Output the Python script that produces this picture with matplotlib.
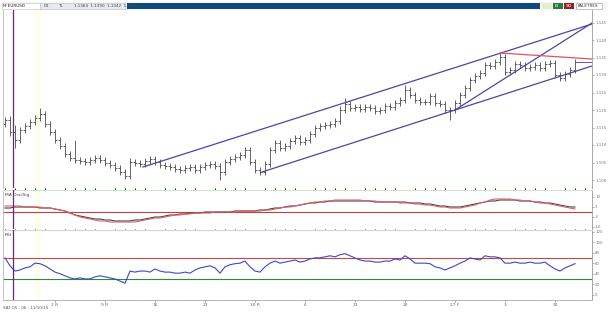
import matplotlib
matplotlib.use("Agg")
import matplotlib.pyplot as plt
from matplotlib.patches import Rectangle

W, H = 608, 315

# ---------------- data ----------------
first_open = 66
close = [70, 58, 50, 60, 64, 68, 72, 76, 66, 58,
         50, 44, 36, 32, 30, 29, 28, 30, 32, 30,
         27, 25, 22, 18, 14, 28, 27, 26, 29, 31,
         28, 25, 24, 23, 21, 20, 22, 23, 20, 23,
         25, 26, 24, 18, 28, 31, 33, 35, 40, 28,
         20, 18, 26, 40, 47, 42, 44, 49, 52, 48,
         50, 56, 62, 64, 65, 66, 69, 80, 86, 82,
         83, 81, 83, 82, 79, 80, 84, 83, 87, 90,
         100, 95, 90, 88, 88, 94, 87, 86, 80, 80,
         87, 95, 102, 110, 114, 117, 125, 124, 128, 133,
         118, 120, 126, 125, 122, 123, 125, 122, 126, 127,
         115, 112, 116, 120, 128]
hi_ext = [3, 4, 7, 3, 3, 3, 3, 6, 3, 3,
          3, 3, 3, 3, 18, 3, 3, 3, 3, 3,
          3, 3, 3, 3, 3, 4, 3, 3, 3, 3,
          3, 3, 3, 3, 3, 3, 3, 3, 3, 3,
          3, 3, 3, 3, 3, 3, 3, 3, 3, 3,
          3, 3, 3, 3, 3, 3, 3, 3, 3, 3,
          3, 3, 3, 3, 3, 3, 3, 4, 6, 3,
          3, 3, 3, 3, 3, 3, 3, 3, 3, 3,
          5, 3, 3, 3, 3, 3, 3, 3, 3, 3,
          3, 3, 3, 3, 3, 3, 3, 3, 3, 4,
          3, 3, 3, 3, 3, 3, 3, 3, 3, 3,
          3, 3, 3, 3, 3]
lo_ext = [3, 4, 8, 3, 3, 3, 3, 3, 3, 3,
          3, 3, 3, 3, 3, 3, 3, 3, 3, 3,
          3, 3, 3, 3, 3, 3, 3, 3, 3, 3,
          3, 3, 3, 3, 3, 3, 3, 3, 3, 3,
          3, 3, 3, 8, 3, 3, 3, 3, 3, 3,
          3, 3, 3, 3, 3, 3, 3, 3, 3, 3,
          3, 3, 3, 3, 3, 3, 3, 3, 3, 3,
          3, 3, 3, 3, 3, 3, 3, 3, 3, 3,
          3, 3, 3, 3, 3, 3, 3, 3, 3, 10,
          3, 3, 3, 3, 3, 3, 3, 3, 3, 3,
          3, 3, 3, 3, 3, 3, 3, 3, 3, 3,
          3, 3, 3, 3, 3]

macd = [4, 4, 5, 5, 5, 5, 5, 4, 4, 4,
        3, 2, 1, -1, -3, -4, -5, -6, -7, -7,
        -8, -8, -9, -9, -9, -9, -8, -8, -7, -6,
        -5, -5, -4, -3, -3, -2, -2, -1, -1, -1,
        0, 0, 0, 0, 0, 0, 1, 1, 1, 1,
        1, 2, 2, 3, 4, 4, 5, 6, 6, 7,
        8, 9, 9, 10, 10, 11, 11, 11, 11, 11,
        11, 11, 11, 11, 10, 10, 10, 10, 10, 10,
        10, 9, 9, 9, 8, 8, 7, 6, 6, 5,
        5, 5, 6, 7, 8, 9, 10, 11, 11, 12,
        12, 12, 12, 11, 11, 11, 10, 10, 9, 9,
        8, 7, 6, 5, 5]
signal = [6, 6, 6, 6, 5, 5, 5, 5, 4, 4,
          3, 2, 1, -1, -3, -5, -6, -7, -8, -9,
          -9, -10, -10, -10, -10, -10, -10, -9, -8, -7,
          -6, -6, -5, -4, -3, -3, -2, -2, -1, -1,
          -1, -1, 0, 0, 0, 0, 0, 1, 1, 1,
          1, 1, 2, 2, 3, 4, 5, 5, 6, 7,
          8, 9, 10, 10, 11, 11, 12, 12, 12, 12,
          12, 12, 11, 11, 11, 10, 10, 10, 10, 9,
          9, 9, 8, 8, 7, 7, 6, 5, 5, 4,
          4, 4, 5, 6, 7, 9, 10, 12, 13, 13,
          13, 13, 12, 12, 11, 11, 10, 9, 9, 8,
          7, 6, 5, 4, 3]
macd_level = 0

rsi = [70, 55, 45, 47, 51, 53, 60, 59, 55, 49,
       43, 40, 36, 32, 30, 32, 30, 30, 34, 36,
       34, 32, 30, 26, 22, 45, 43, 45, 45, 43,
       49, 45, 43, 43, 41, 41, 43, 41, 47, 51,
       53, 55, 51, 41, 53, 57, 59, 60, 64, 53,
       45, 43, 53, 60, 64, 60, 62, 64, 66, 62,
       64, 68, 70, 70, 72, 74, 72, 76, 78, 74,
       70, 66, 64, 64, 62, 62, 64, 64, 68, 66,
       74, 68, 60, 60, 60, 59, 53, 51, 47, 51,
       55, 60, 64, 70, 68, 66, 74, 72, 72, 70,
       60, 60, 62, 60, 60, 62, 60, 60, 62, 55,
       49, 45, 51, 55, 59]
rsi_upper, rsi_lower = 70, 30

# trend lines (bar index, price)
upper_x, upper_y = [27.6, 117.4], [23, 166]
lower_x, lower_y = [51.4, 117.4], [18, 124]
steep_x, steep_y = [90, 117.4], [80, 167]
red_x, red_y = [99, 117.4], [137, 131]
last_x, last_y = [114, 117.4], [128, 128]

price_ticks = [10, 27.5, 45, 62.5, 80, 97.5, 115, 132.5, 150, 167.5]
price_labels = ["1.100", "1.105", "1.110", "1.115", "1.120",
                "1.125", "1.130", "1.135", "1.140", "1.145"]
macd_ticks = [15, 5, -5, -15]
macd_labels = ["10", "3", "-3", "-10"]
rsi_ticks = [120, 100, 80, 60, 40, 20, 0]
rsi_labels = ["120", "100", "80", "60", "40", "20", "0"]
date_pos = [10, 20, 30, 40, 50, 60, 70, 80, 90, 100, 110]
date_labels = ["2 R", "9 R", "16", "23", "30 R", "6", "13", "20", "27 F", "3", "10"]

# ---------------- figure ----------------
fig = plt.figure(figsize=(W / 100, H / 100), dpi=100)
fig.patch.set_facecolor("white")


def rect(x0, y0, x1, y1):
    return [x0 / W, 1 - y1 / H, (x1 - x0) / W, (y1 - y0) / H]


RIGHT = 592
ax = fig.add_axes(rect(3, 10, RIGHT, 188))
axm = fig.add_axes(rect(3, 190, RIGHT, 229), sharex=ax)
axr = fig.add_axes(rect(3, 230, RIGHT, 300), sharex=ax)

XL = (-0.4, (RIGHT - 5) / 5)
for a in (ax, axm, axr):
    a.set_xlim(*XL)
    a.yaxis.tick_right()
    a.tick_params(axis="y", labelsize=2.8, length=1.5, pad=0.8, colors="#777777", width=0.4)
    a.tick_params(axis="x", bottom=False, labelbottom=False)
    for s in ("top", "bottom"):
        a.spines[s].set_visible(False)
    a.spines["left"].set_color("#bbbbbb")
    a.spines["left"].set_linewidth(0.6)
    a.spines["right"].set_color("#999999")
    a.spines["right"].set_linewidth(0.6)
    a.axvline(1.6, color="#6a2a6a", lw=0.9, zorder=5)
    a.axvspan(5.8, 7.2, color="#fefdf0", zorder=0, lw=0)

# price bars
bar_col = "#3a3a3a"
for i, c in enumerate(close):
    o = close[i - 1] if i > 0 else first_open
    hi = max(o, c) + hi_ext[i]
    lo = min(o, c) - lo_ext[i]
    ax.vlines(i, lo, hi, color=bar_col, lw=0.55)
    ax.hlines(o, i - 0.45, i, color=bar_col, lw=0.55)
    ax.hlines(c, i, i + 0.45, color=bar_col, lw=0.55)

ax.plot(upper_x, upper_y, color="#4a46a8", lw=0.9)
ax.plot(lower_x, lower_y, color="#4a46a8", lw=0.9)
ax.plot(steep_x, steep_y, color="#4a46a8", lw=0.9)
ax.plot(red_x, red_y, color="#e8505e", lw=0.9)
ax.plot(last_x, last_y, color="#5a56b0", lw=0.7)
ax.set_ylim(2, 180)
ax.set_yticks(price_ticks)
ax.set_yticklabels(price_labels)

# MACD panel
xs = list(range(len(macd)))
axm.axhline(macd_level, color="#c83c3c", lw=0.8)
axm.plot(xs, macd, color="#34503a", lw=0.8)
axm.plot(xs, signal, color="#e85a6a", lw=0.8)
axm.set_ylim(-17, 22)
axm.set_yticks(macd_ticks)
axm.set_yticklabels(macd_labels)
axm.spines["top"].set_visible(True)
axm.spines["top"].set_color("#cfe6cf")
axm.spines["top"].set_linewidth(0.8)
axm.text(0.003, 0.92, "MA Osc/Sig", transform=axm.transAxes, fontsize=3.2,
         color="#444444", va="top", ha="left")

# RSI panel
axr.axhline(rsi_upper, color="#c84848", lw=0.8)
axr.axhline(rsi_lower, color="#2e8a3a", lw=0.8)
axr.plot(list(range(len(rsi))), rsi, color="#3a48cc", lw=0.8)
axr.set_ylim(-10, 123)
axr.set_yticks(rsi_ticks)
axr.set_yticklabels(rsi_labels)
axr.spines["top"].set_visible(True)
axr.spines["top"].set_color("#d4d4d4")
axr.spines["top"].set_linewidth(0.8)
axr.spines["bottom"].set_visible(True)
axr.spines["bottom"].set_color("#aaaaaa")
axr.spines["bottom"].set_linewidth(0.6)
axr.text(0.003, 0.96, "RSI", transform=axr.transAxes, fontsize=3.2,
         color="#444444", va="top", ha="left")
axr.tick_params(axis="x", bottom=True, labelbottom=True, labelsize=3.2,
                length=1.5, pad=1, colors="#666666", width=0.4)
axr.set_xticks(date_pos)
axr.set_xticklabels(date_labels)
axr.set_xticks(list(range(0, 118, 2)), minor=True)
axr.tick_params(axis="x", which="minor", length=1, width=0.3, colors="#999999")

# header strip
def frect(x0, y0, x1, y1, **kw):
    fig.add_artist(Rectangle((x0 / W, 1 - y1 / H), (x1 - x0) / W, (y1 - y0) / H,
                             transform=fig.transFigure, **kw))

frect(0, 2, 608, 10, facecolor="#f4f6f8", edgecolor="none")
frect(2, 3, 40, 9, facecolor="#ffffff", edgecolor="#bbbbbb", lw=0.4)
frect(40, 3, 125, 9, facecolor="#e6eaee", edgecolor="#bbbbbb", lw=0.4)
frect(127, 3, 540, 9, facecolor="#0e4b7c", edgecolor="none")
frect(542, 3, 552, 9, facecolor="#e4eecc", edgecolor="none")
frect(553, 3, 563, 9, facecolor="#2b7a3c", edgecolor="none")
frect(564, 3, 574, 9, facecolor="#8c2424", edgecolor="none")
frect(576, 3, 602, 9, facecolor="#ffffff", edgecolor="#999999", lw=0.4)

def ftext(x, y, s, **kw):
    fig.text(x / W, 1 - y / H, s, fontsize=3.0, va="center", **kw)

ftext(3, 6, "M EURUSD", color="#222222")
ftext(44, 6, "D1", color="#444444")
ftext(58, 6, "TL", color="#444444")
ftext(74, 6, "1.1364  1.1390  1.1342  1.1375", color="#444444")
ftext(555, 6, "BI", color="white")
ftext(566, 6, "SKI", color="white")
ftext(578, 6, "PALETRES", color="#333333")
ftext(3, 308, "SAT 05 - 06 : 11/10/15", color="#555555")

fig.savefig("out.png", dpi=100, facecolor="white")
